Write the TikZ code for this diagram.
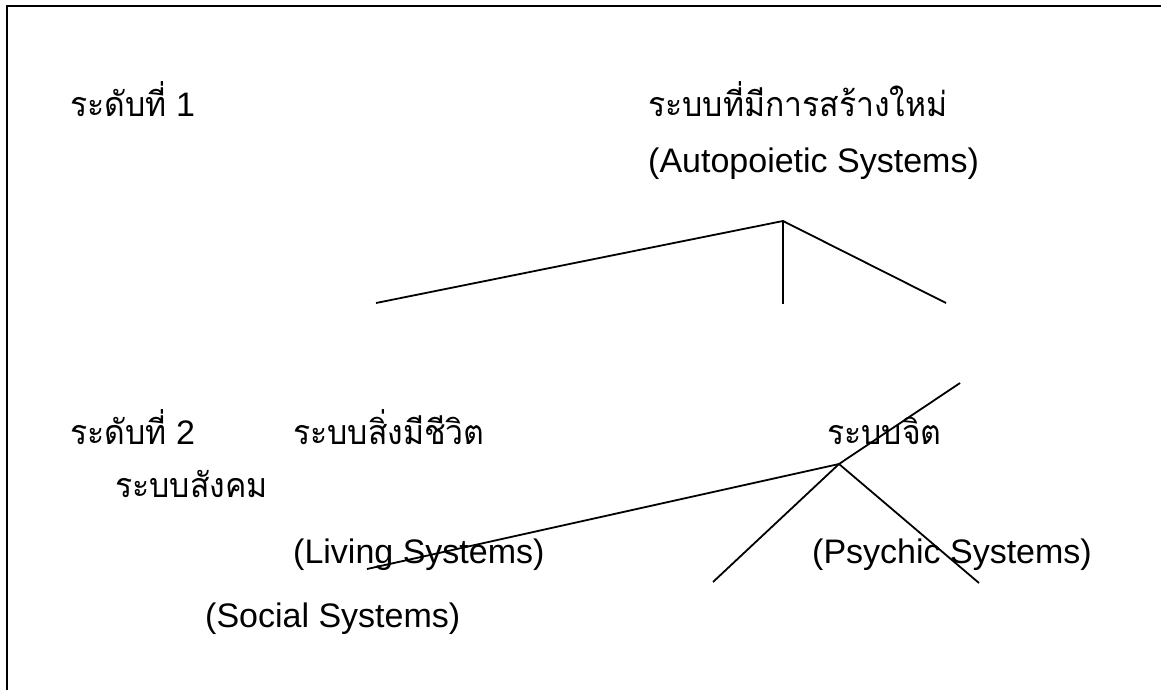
\documentclass[tikz,border=0pt]{standalone}
\usepackage{fontspec}
\setmainfont{Liberation Sans}
\newfontfamily\thaifont[Script=Thai,FakeStretch=0.94]{Loma}
\begin{document}
\begin{tikzpicture}[x=1pt,y=-1pt,
  lbl/.style={anchor=base west, inner sep=0pt, font=\fontsize{34}{40}\selectfont},
  thai/.style={lbl, font=\fontsize{34}{40}\selectfont\thaifont},
  link/.style={line width=1.8pt},
  frame/.style={line width=2pt}]
\useasboundingbox (0,0) rectangle (1161,690);

% open frame: top and left edges only
\coordinate (fc) at (6.5,6.5);
\coordinate (fr) at (1161,6.5);
\coordinate (fb) at (6.5,690);
\draw[frame] (fr) -- (fc) -- (fb);

% level labels
\node[lbl] (lv1) at (70,117) {{\thaifont ระดับที่} 1};
\node[lbl] (lv2) at (70,444) {{\thaifont ระดับที่} 2};

% level 1
\node[thai] (auto) at (648,117) {ระบบที่มีการสร้างใหม่};
\node[lbl] (autoen) at (648,172) {(Autopoietic Systems)};

% level 2
\node[thai] (live) at (293,444) {ระบบสิ่งมีชีวิต};
\node[thai] (psy) at (827,444) {ระบบจิต};
\node[thai] (soc) at (115,497) {ระบบสังคม};
\node[lbl] (liveen) at (293,563) {(Living Systems)};
\node[lbl] (psyen) at (812,563) {(Psychic Systems)};
\node[lbl] (socen) at (205,627) {(Social Systems)};

% upper fork
\coordinate (t1) at (783,221);
\coordinate (t1l) at (376,303);
\coordinate (t1m) at (783,304);
\coordinate (t1r) at (946,303);
\draw[link] (t1l) -- (t1) -- (t1r);
\draw[link] (t1) -- (t1m);

% lower fork
\coordinate (t2top) at (960,383);
\coordinate (t2j) at (839,464);
\coordinate (t2l) at (367,569);
\coordinate (t2bl) at (713,582);
\coordinate (t2br) at (979,583);
\draw[link] (t2top) -- (t2j) -- (t2l);
\draw[link] (t2bl) -- (t2j) -- (t2br);
\end{tikzpicture}
\end{document}
